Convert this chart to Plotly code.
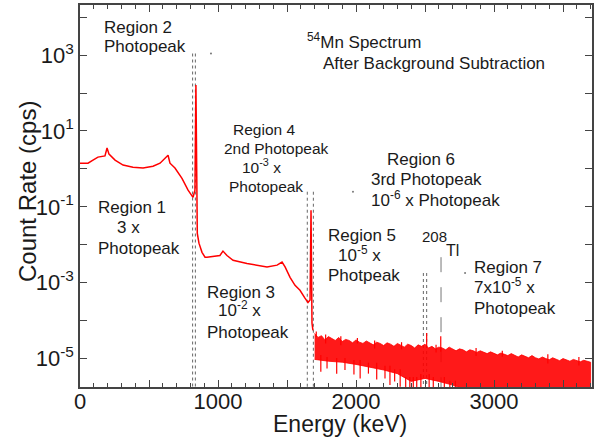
import plotly.graph_objects as go

# ---------------- data ----------------
# Continuous part of the 54Mn spectrum (Regions 1-4), energy in keV, rate in cps
spec_energy = [0, 58, 94, 130, 181, 196, 210, 254, 312, 384, 457, 529, 580, 616, 638,
               652, 688, 739, 783, 819, 833, 840, 845, 850, 862, 884, 906, 920, 1014,
               1036, 1065, 1109, 1210, 1355, 1428, 1464, 1486, 1522, 1558, 1594, 1630,
               1652, 1667, 1674, 1681, 1688]
spec_rate = [1.41, 1.41, 1.70, 2.04, 2.19, 3.55, 2.45, 1.70, 1.26, 1.11, 1.05, 1.17,
             1.41, 1.91, 2.29, 1.41, 1.05, 0.56, 0.275, 0.178, 0.275, 162, 0.03,
             0.02, 0.011, 6.3e-3, 4.7e-3, 4.7e-3, 5.2e-3, 6.8e-3, 5.2e-3, 3.9e-3,
             3.2e-3, 2.6e-3, 2.9e-3, 3.5e-3, 2.6e-3, 1.38e-3, 8.5e-4, 6.3e-4, 3.9e-4,
             3.0e-4, 3.5e-4, 0.081, 8.5e-5, 5.5e-5]

# Noisy part above the 2nd photopeak: upper edge (25 keV grid) and lower edge (100 keV grid)
noise_hi_energy = list(range(1700, 3701, 25))
noise_hi = [4.6e-5, 3.6e-5, 4.0e-5, 3.1e-5, 3.8e-5, 3.3e-5, 3.0e-5, 3.6e-5, 2.8e-5, 3.2e-5,
            3.0e-5, 2.6e-5, 3.1e-5, 2.7e-5, 2.5e-5, 2.9e-5, 2.6e-5, 2.3e-5, 2.7e-5, 2.5e-5,
            2.2e-5, 2.6e-5, 2.4e-5, 2.1e-5, 2.5e-5, 2.2e-5, 2.0e-5, 2.4e-5, 2.2e-5, 1.9e-5,
            2.3e-5, 2.1e-5, 2.4e-5, 1.9e-5, 2.1e-5, 1.8e-5, 2.0e-5, 1.9e-5, 1.7e-5, 2.0e-5,
            1.8e-5, 1.6e-5, 1.8e-5, 1.7e-5, 1.5e-5, 1.7e-5, 1.6e-5, 1.45e-5, 1.6e-5, 1.5e-5,
            1.35e-5, 1.5e-5, 1.4e-5, 1.25e-5, 1.4e-5, 1.3e-5, 1.2e-5, 1.35e-5, 1.2e-5, 1.1e-5,
            1.25e-5, 1.15e-5, 1.05e-5, 1.2e-5, 1.05e-5, 0.98e-5, 1.1e-5, 1.0e-5, 0.93e-5, 1.05e-5,
            0.95e-5, 0.88e-5, 1.0e-5, 0.9e-5, 0.85e-5, 0.95e-5, 0.88e-5, 0.82e-5, 0.9e-5, 0.84e-5,
            0.8e-5]
noise_lo_energy = list(range(1700, 3701, 100))
noise_lo = [0.95e-5, 0.85e-5, 0.8e-5, 0.7e-5, 0.6e-5, 0.5e-5, 0.4e-5, 0.25e-5, 0.3e-5,
            0.25e-5, 0.2e-5, 0.15e-5, 0.1e-5, 0.1e-5, 0.1e-5, 0.1e-5, 0.1e-5, 0.1e-5,
            0.1e-5, 0.1e-5, 0.1e-5]

# Downward noise spikes (energy, lowest rate)
spike_energy = [1745, 1790, 1860, 1920, 1985, 2030, 2090, 2150, 2210, 2246, 2280, 2320,
                2360, 2390, 2415, 2440, 2470, 2530, 2560, 2640, 2680, 2720]
spike_low = [0.45e-5, 0.55e-5, 0.4e-5, 0.5e-5, 0.38e-5, 0.3e-5, 0.4e-5, 0.28e-5, 0.3e-5,
             0.2e-5, 0.25e-5, 0.18e-5, 0.1e-5, 0.1e-5, 0.1e-5, 0.1e-5, 0.15e-5, 0.12e-5,
             0.15e-5, 0.12e-5, 0.1e-5, 0.1e-5]
# Upward noise spikes (energy, highest rate)
spike_up_energy = [1712, 1780, 1890, 2010, 2135, 2330, 2580, 2870, 3060, 3390, 3615]
spike_up_high = [5.2e-5, 4.3e-5, 3.9e-5, 3.5e-5, 3.0e-5, 2.7e-5, 2.3e-5, 1.9e-5, 1.6e-5,
                 1.3e-5, 1.1e-5]

# Small peaks inside the noise: 3rd photopeak and 208Tl
small_peak_energy = [2512, 2614]
small_peak_rate = [4.7e-5, 3.9e-5]

# Region boundary lines (energy, top of line)
region_line_energy = [816, 836, 1647, 1691, 2488, 2512]
region_line_top = [1.1e3, 1.1e3, 0.25, 0.25, 1.8e-3, 1.8e-3]
region_marks_energy = [949, 1978, 2790]
region_marks_rate = [1.1e3, 0.25, 1.8e-3]
tl_energy = 2616
tl_top = 4.7e-3

y_tick_exp = list(range(-5, 5))
x_tick_vals = [0, 500, 1000, 1500, 2000, 2500, 3000, 3500]
x_tick_text = ["0", "", "1000", "", "2000", "", "3000", ""]

# ---------------- figure ----------------
RED = "#ff0000"
FONT = "Arial, Liberation Sans, sans-serif"
TXT = "#1a1a1a"
YMIN_LOG, YMAX_LOG = -5.75, 4.32
bottom_val = 10 ** YMIN_LOG

fig = go.Figure()

# region lines
lx, ly = [], []
for e, t in zip(region_line_energy, region_line_top):
    lx += [e, e, None]
    ly += [t, bottom_val, None]
fig.add_trace(go.Scatter(x=lx, y=ly, mode="lines", line=dict(color="#666666", width=1, dash="dot"),
                         hoverinfo="skip", showlegend=False))
fig.add_trace(go.Scatter(x=[tl_energy, tl_energy], y=[tl_top, bottom_val], mode="lines",
                         line=dict(color="#777777", width=1, dash="longdash"),
                         hoverinfo="skip", showlegend=False))
fig.add_trace(go.Scatter(x=region_marks_energy, y=region_marks_rate, mode="markers",
                         marker=dict(color="#777777", size=2), hoverinfo="skip", showlegend=False))

# noise band
band_x = noise_hi_energy + noise_lo_energy[::-1]
band_y = noise_hi + noise_lo[::-1]
fig.add_trace(go.Scatter(x=band_x, y=band_y, mode="lines", fill="toself",
                         fillcolor="rgba(255,0,0,0.9)",
                         line=dict(color=RED, width=0.8), hoverinfo="skip", showlegend=False))

# spikes
def nearest(grid, e):
    return min(range(len(grid)), key=lambda k: abs(grid[k] - e))

sx, sy = [], []
for e, lo in zip(spike_energy, spike_low):
    i = nearest(noise_lo_energy, e)
    sx += [e, e, None]
    sy += [noise_lo[i] * 1.3, lo, None]
for e, hi in zip(spike_up_energy, spike_up_high):
    i = nearest(noise_hi_energy, e)
    sx += [e, e, None]
    sy += [noise_hi[i] * 0.8, hi, None]
for e, top in zip(small_peak_energy, small_peak_rate):
    i = nearest(noise_hi_energy, e)
    sx += [e, e, None]
    sy += [top, noise_hi[i] * 0.8, None]
fig.add_trace(go.Scatter(x=sx, y=sy, mode="lines", line=dict(color=RED, width=1.2),
                         hoverinfo="skip", showlegend=False))

# continuous spectrum
fig.add_trace(go.Scatter(x=spec_energy, y=spec_rate, mode="lines",
                         line=dict(color=RED, width=1.5), hoverinfo="skip", showlegend=False))

# ---------------- annotations ----------------
L, R, T, B = 80, 592, 5, 387
def ann(text, px, py, size=17, **kw):
    d = dict(text=text, xref="paper", yref="paper",
             x=(px - L) / (R - L), y=(B - py) / (B - T),
             xanchor="left", yanchor="middle", showarrow=False,
             font=dict(family=FONT, size=size, color=TXT))
    d.update(kw)
    return d

annotations = [
    ann("Region 2", 102, 27), ann("Photopeak", 102, 47),
    ann("<sup>54</sup>Mn Spectrum", 305, 41), ann("After Background Subtraction", 321, 63),
    ann("Region 4", 231, 129, 15.5), ann("2nd Photopeak", 222, 148, 15.5),
    ann("10<sup>-3</sup> x", 240, 166, 15.5), ann("Photopeak", 227, 186, 15.5),
    ann("Region 6", 385, 159), ann("3rd Photopeak", 369, 180), ann("10<sup>-6</sup> x Photopeak", 369, 199),
    ann("Region 1", 96, 207), ann("3 x", 115, 227), ann("Photopeak", 96, 248),
    ann("Region 3", 205, 292), ann("10<sup>-2</sup> x", 216, 309), ann("Photopeak", 205, 332),
    ann("Region 5", 326, 235), ann("10<sup>-5</sup> x", 336, 254), ann("Photpeak", 326, 275),
    ann("208", 420, 236, 15), ann("Tl", 444, 250, 16),
    ann("Region 7", 472, 267), ann("7x10<sup>-5</sup> x", 472, 286), ann("Photopeak", 472, 308),
    # axis titles
    ann("Count Rate (cps)", 27, 192, 24, xanchor="center", textangle=-90),
    ann("Energy (keV)", 340, 424, 23, xanchor="center"),
]

axis_common = dict(showline=True, linecolor="#444444", linewidth=1.5, mirror="allticks",
                   ticks="inside", tickcolor="#444444", tickwidth=1.2, showgrid=False,
                   zeroline=False, tickfont=dict(family=FONT, size=22, color=TXT))

fig.update_layout(
    width=604, height=438,
    margin=dict(l=L, r=604 - R, t=T, b=438 - B, autoexpand=False),
    paper_bgcolor="white", plot_bgcolor="white",
    font=dict(family=FONT, color=TXT),
    xaxis=dict(range=[0, 3710], tickmode="array", tickvals=x_tick_vals, ticktext=x_tick_text,
               ticklen=7, automargin=False, ticklabelstandoff=-6,
               minor=dict(tickmode="linear", tick0=0, dtick=100, ticklen=4, ticks="inside",
                          tickcolor="#444444"),
               **axis_common),
    yaxis=dict(type="log", range=[YMIN_LOG, YMAX_LOG], tickmode="array",
               tickvals=[10 ** k for k in y_tick_exp],
               ticktext=[("10<sup>%d</sup>" % k) if k % 2 else "" for k in y_tick_exp],
               ticklen=7, automargin=False,
               **axis_common),
    annotations=annotations,
)

fig.write_html("out.html", config={"displayModeBar": False},
               post_script="document.body.style.margin='0';document.body.style.overflow='hidden';")
